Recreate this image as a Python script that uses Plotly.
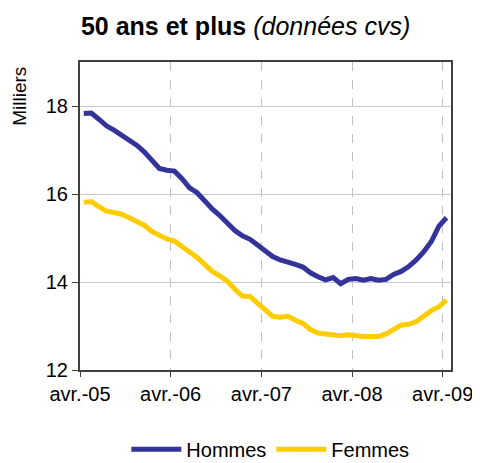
import plotly.graph_objects as go

# monthly series, avr.-05 .. avr.-09 (milliers)
months = [i + 0.5 for i in range(49)]
hommes = [17.83, 17.84, 17.70, 17.55, 17.45, 17.34, 17.22, 17.11, 16.96, 16.77,
          16.58, 16.54, 16.52, 16.35, 16.14, 16.03, 15.83, 15.66, 15.51, 15.35,
          15.17, 15.05, 14.97, 14.84, 14.72, 14.58, 14.50, 14.46, 14.40, 14.34,
          14.21, 14.12, 14.05, 14.10, 13.96, 14.06, 14.08, 14.04, 14.08, 14.04,
          14.06, 14.17, 14.24, 14.35, 14.50, 14.69, 14.92, 15.27, 15.46]
femmes = [15.81, 15.83, 15.71, 15.61, 15.58, 15.54, 15.46, 15.38, 15.29, 15.15,
          15.05, 14.98, 14.93, 14.82, 14.68, 14.56, 14.39, 14.24, 14.14, 14.02,
          13.83, 13.68, 13.67, 13.51, 13.37, 13.22, 13.20, 13.22, 13.13, 13.06,
          12.92, 12.84, 12.82, 12.79, 12.78, 12.80, 12.77, 12.76, 12.76, 12.76,
          12.82, 12.91, 13.02, 13.04, 13.10, 13.22, 13.35, 13.44, 13.59]

tick_pos = [0, 12, 24, 36, 48]
tick_labels = ["avr.-05", "avr.-06", "avr.-07", "avr.-08", "avr.-09"]

FONT = "Liberation Sans, Arial, sans-serif"

fig = go.Figure()
fig.add_trace(go.Scatter(x=months, y=hommes, name="Hommes", mode="lines",
                         line=dict(color="#333399", width=5)))
fig.add_trace(go.Scatter(x=months, y=femmes, name="Femmes", mode="lines",
                         line=dict(color="#FFCC00", width=5)))

# the page body adds an 8px margin, so everything is laid out 8px up/left
fig.update_layout(
    width=480, height=463,
    margin=dict(l=72, r=37, t=54, b=101, autoexpand=False),
    paper_bgcolor="white", plot_bgcolor="white",
    font=dict(family=FONT, size=20, color="black"),
    title=dict(text="<b>50 ans et plus</b> <i>(données cvs)</i>",
               x=0.495, xanchor="center", y=0.961, yanchor="middle",
               font=dict(size=25)),
    legend=dict(orientation="h", x=0.513, xanchor="center",
                yref="container", y=0.047, yanchor="middle",
                font=dict(size=20), itemwidth=50, tracegroupgap=0),
    showlegend=True,
)
fig.update_xaxes(range=[0, 49.1], tickvals=tick_pos, ticktext=tick_labels,
                 automargin=False,
                 showgrid=True, gridcolor="#c0c0c0", griddash="dash", gridwidth=1,
                 showline=True, linecolor="#404040", linewidth=2, mirror=True,
                 ticks="outside", ticklen=5, tickcolor="#404040", zeroline=False)
fig.update_yaxes(range=[12, 19], tickvals=[12, 14, 16, 18], automargin=False,
                 showgrid=True, gridcolor="#c8c8c8", gridwidth=1,
                 showline=True, linecolor="#404040", linewidth=2, mirror=True,
                 ticks="outside", ticklen=6, tickcolor="#404040", zeroline=False)
fig.add_annotation(text="Milliers", textangle=-90, xref="paper", yref="paper",
                   x=-0.162, y=0.89, xanchor="center", yanchor="middle",
                   showarrow=False, font=dict(size=19))

fig.write_html("out.html")
